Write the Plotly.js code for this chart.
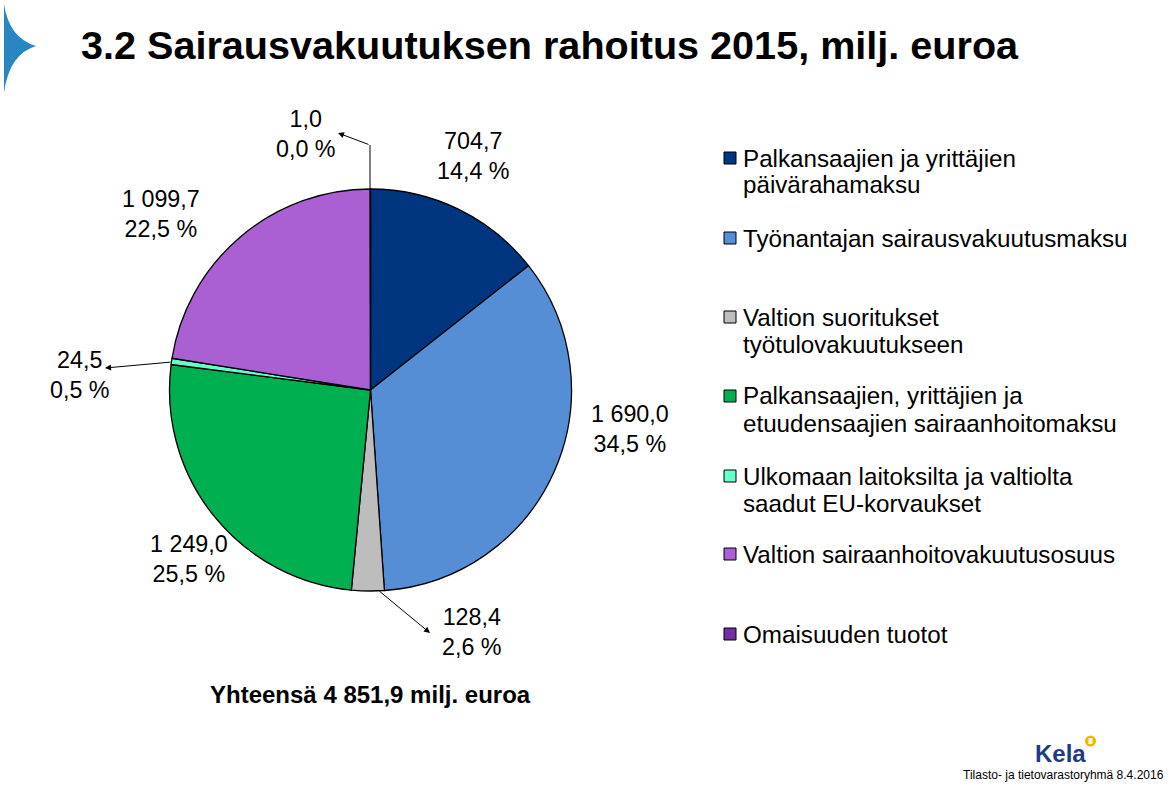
<!DOCTYPE html>
<html>
<head>
<meta charset="utf-8">
<script src="https://cdn.plot.ly/plotly-3.0.1.min.js"></script>
<style>html,body{margin:0;padding:0;background:#fff;}#chart{width:1174px;height:789px;}</style>
</head>
<body>
<div id="chart"></div>
<script>
// ---- data ----
const categories = [
  "Palkansaajien ja yrittäjien<br>päivärahamaksu",
  "Työnantajan sairausvakuutusmaksu",
  "Valtion suoritukset<br>työtulovakuutukseen",
  "Palkansaajien, yrittäjien ja<br>etuudensaajien sairaanhoitomaksu",
  "Ulkomaan laitoksilta ja valtiolta<br>saadut EU-korvaukset",
  "Valtion sairaanhoitovakuutusosuus",
  "Omaisuuden tuotot"
];
const values = [704.7, 1690.0, 128.4, 1249.0, 24.5, 1099.7, 1.0];
const colors = ["#003580", "#558ED5", "#BDBDBD", "#00B050", "#66FFCC", "#AA5FD2", "#7030A0"];
const titleText = "3.2 Sairausvakuutuksen rahoitus 2015, milj. euroa";
const totalText = "Yhteensä 4 851,9 milj. euroa";
const footerText = "Tilasto- ja tietovarastoryhmä 8.4.2016";

// ---- layout helpers ----
const W = 1174, H = 789;
const px = x => x / W;
const py = y => 1 - y / H;
const FONT = "Liberation Sans, Arial, sans-serif";

const sum = values.reduce((a, b) => a + b, 0);
function fmtNum(v) {
  const s = v.toFixed(1).split(".");
  const int = s[0].replace(/\B(?=(\d{3})+(?!\d))/g, " ");
  return int + "," + s[1];
}
function fmtPct(v) {
  return (v / sum * 100).toFixed(1).replace(".", ",") + " %";
}

// label positions (pixel centers)
const labelPos = [[473,156],[630,429],[472,632],[189,559],[80,375],[161,214],[306,134]];
const legendY = [158,238,317,396,476,554,634];

const annotations = [];
const shapes = [];

// pie data labels
values.forEach((v, i) => {
  annotations.push({
    xref: "paper", yref: "paper", x: px(labelPos[i][0]), y: py(labelPos[i][1]),
    xanchor: "center", yanchor: "middle", align: "center", showarrow: false,
    text: fmtNum(v) + "<br>" + fmtPct(v),
    font: {family: FONT, size: 23.3, color: "#000"}
  });
});

// leader arrows
const arrows = [
  {head: [430, 633], tail: [378, 590]},
  {head: [105, 368], tail: [172, 362]},
  {head: [338, 133], tail: [370, 145]}
];
arrows.forEach(a => {
  annotations.push({
    xref: "paper", yref: "paper", x: px(a.head[0]), y: py(a.head[1]),
    ax: a.tail[0] - a.head[0], ay: a.tail[1] - a.head[1],
    text: "", showarrow: true, arrowhead: 2, arrowsize: 1.2, arrowwidth: 1, arrowcolor: "#000",
    standoff: 0, startstandoff: 0
  });
});
shapes.push({type: "line", xref: "paper", yref: "paper",
  x0: px(370), y0: py(190), x1: px(370), y1: py(145), line: {color: "#000", width: 1}});

// legend
categories.forEach((c, i) => {
  const y = legendY[i];
  shapes.push({type: "rect", xref: "paper", yref: "paper",
    x0: px(724), x1: px(736), y0: py(y - 6), y1: py(y + 6),
    fillcolor: colors[i], line: {color: "#000", width: 1}});
  c.split("<br>").forEach((line, k) => {
    annotations.push({
      xref: "paper", yref: "paper", x: px(741), y: py(y + k * 27),
      xanchor: "left", yanchor: "middle", showarrow: false, text: line,
      font: {family: FONT, size: 24.2, color: "#000"}
    });
  });
});

// title
annotations.push({xref: "paper", yref: "paper", x: px(79), y: py(45), xanchor: "left", yanchor: "middle",
  showarrow: false, text: "<b>" + titleText + "</b>", font: {family: FONT, size: 39.6, color: "#000"}});
// total
annotations.push({xref: "paper", yref: "paper", x: px(370), y: py(694), xanchor: "center", yanchor: "middle",
  showarrow: false, text: "<b>" + totalText + "</b>", font: {family: FONT, size: 24, color: "#000"}});
// footer
annotations.push({xref: "paper", yref: "paper", x: px(1166), y: py(775), xanchor: "right", yanchor: "middle",
  showarrow: false, text: footerText, font: {family: FONT, size: 12, color: "#000"}});
// Kela logo text
annotations.push({xref: "paper", yref: "paper", x: px(1060), y: py(753), xanchor: "center", yanchor: "middle",
  showarrow: false, text: "<b>Kela</b>", font: {family: FONT, size: 24, color: "#1F3A8A"}});

// Kela logo icon
shapes.push({type: "circle", xref: "paper", yref: "paper",
  x0: px(1085), x1: px(1096), y0: py(746.5), y1: py(735.5), fillcolor: "#F6B400", line: {width: 0}});
shapes.push({type: "rect", xref: "paper", yref: "paper",
  x0: px(1088.5), x1: px(1092.5), y0: py(744), y1: py(738), fillcolor: "#FFFFFF", line: {width: 0}});

// left blue decoration
function P(x, y) { return px(x) + " " + py(y); }
shapes.push({type: "path", xref: "paper", yref: "paper",
  path: "M " + P(4, 4) + " Q " + P(9, 38) + " " + P(36, 46) + " Q " + P(9, 54) + " " + P(4, 93) + " Z",
  fillcolor: "#2A86C2", line: {width: 0}});

const trace = {
  type: "pie",
  labels: categories.map(c => c.replace("<br>", " ")),
  values: values,
  sort: false,
  direction: "clockwise",
  rotation: 0,
  textinfo: "none",
  hoverinfo: "label+value+percent",
  marker: {colors: colors, line: {color: "#000", width: 1.3}},
  domain: {x: [px(169.5), px(571.5)], y: [py(591), py(189)]},
  showlegend: false
};

const layout = {
  width: W, height: H,
  margin: {l: 0, r: 0, t: 0, b: 0},
  paper_bgcolor: "#fff", plot_bgcolor: "#fff",
  showlegend: false,
  annotations: annotations,
  shapes: shapes,
  font: {family: FONT}
};

Plotly.newPlot("chart", [trace], layout, {displayModeBar: false, staticPlot: true});
</script>
</body>
</html>
